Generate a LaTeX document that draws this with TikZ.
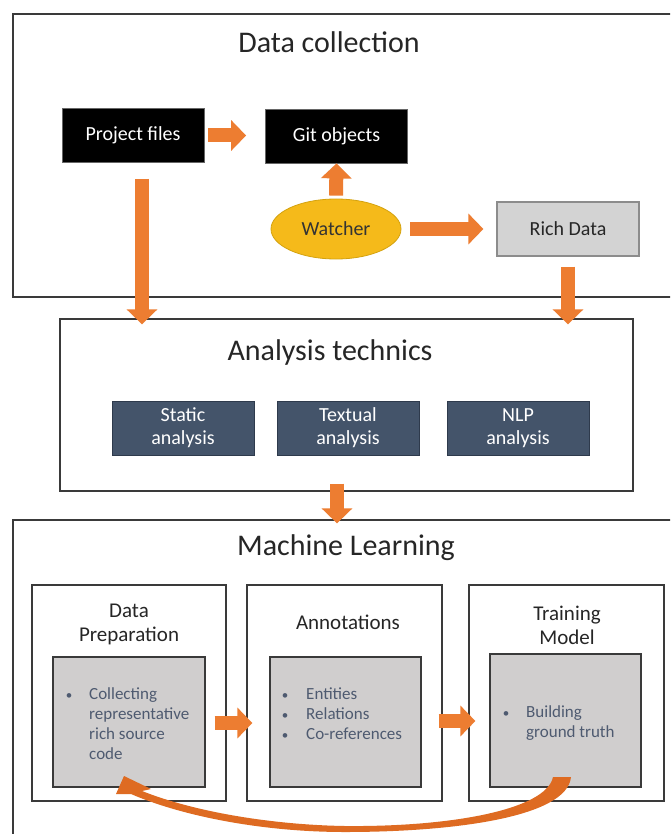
\documentclass[tikz,border=0pt]{standalone}
\usepackage{fontspec}
\setmainfont{Carlito}
\usetikzlibrary{arrows.meta,calc,shapes.geometric}
\definecolor{borange}{HTML}{ED7D31}
\definecolor{curveorange}{HTML}{DE6B22}
\definecolor{slate}{HTML}{44546A}
\definecolor{slateedge}{HTML}{2E3A4C}
\definecolor{bullettext}{HTML}{4E5A70}
\definecolor{framegray}{HTML}{3A3A3A}
\definecolor{lightgray}{HTML}{D3D3D3}
\definecolor{innergray}{HTML}{D0CECE}
\definecolor{gold}{HTML}{F5BA1A}
\definecolor{goldedge}{HTML}{D4A20E}
\definecolor{titletext}{HTML}{262626}
\begin{document}
\begin{tikzpicture}[x=1pt,y=-1pt,
  frame/.style={draw=framegray,line width=1.3pt,inner sep=0pt},
  titletxt/.style={text=titletext,font=\fontsize{30}{36}\selectfont,inner sep=0pt},
  blackbox/.style={fill=black,draw=black!60,line width=0.8pt,text=white,minimum width=142pt,minimum height=54pt,inner sep=0pt,font=\fontsize{20}{24}\selectfont},
  graybox/.style={fill=lightgray,draw=black!45,line width=1.2pt,text=titletext,minimum width=142pt,minimum height=54pt,inner sep=0pt,font=\fontsize{20}{24}\selectfont},
  watch/.style={ellipse,fill=gold,draw=goldedge,line width=0.8pt,text=black!80,minimum width=130pt,minimum height=60pt,inner sep=0pt,font=\fontsize{20}{24}\selectfont},
  slatebox/.style={fill=slate,draw=slateedge,line width=1pt,text=white,minimum width=142pt,minimum height=54pt,inner sep=0pt,align=center,font=\fontsize{20}{23}\selectfont},
  colbox/.style={draw=framegray,line width=1.2pt,inner sep=0pt,minimum height=216pt},
  innerbox/.style={fill=innergray,draw=framegray,line width=1.2pt,inner sep=0pt},
  coltitle/.style={text=titletext,font=\fontsize{21}{24}\selectfont,inner sep=0pt,anchor=base},
  btext/.style={text=bullettext,font=\fontsize{17}{20}\selectfont,inner sep=0pt,anchor=base west},
  bdot/.style={text=bullettext,font=\fontsize{13}{20}\selectfont,inner sep=0pt,anchor=base},
  barrow/.style={draw=borange,line width=14pt,-{Triangle[width=30pt,length=15pt]}}
]
\clip (0,0) rectangle (670,834);
\fill[white] (0,0) rectangle (670,834);

% ---------- Data collection ----------
\node[frame,minimum width=667pt,minimum height=283pt] (dc) at (346.5,155.5) {};
\node[titletxt,anchor=base] (dctitle) at (329,53) {Data collection};
\node[blackbox] (pf) at (133,135.5) {Project files};
\node[blackbox] (git) at (336.5,136) {Git objects};
\node[watch] (wat) at (336,229) {Watcher};
\node[graybox] (rich) at (568,229) {Rich Data};

% ---------- Analysis technics ----------
\node[frame,minimum width=573pt,minimum height=172pt] (ana) at (346.5,405) {};
\node[titletxt,anchor=base] (anatitle) at (330,360) {Analysis technics};
\node[slatebox] (sta) at (183,428) {Static\\analysis};
\node[slatebox] (txt) at (348,428) {Textual\\analysis};
\node[slatebox] (nlp) at (518,428) {NLP\\analysis};

% ---------- Machine Learning ----------
\node[frame,minimum width=667pt,minimum height=330pt] (ml) at (346.5,685) {};
\node[titletxt,anchor=base] (mltitle) at (346,555) {Machine Learning};

\node[colbox,minimum width=194pt] (dpo) at (129,693) {};
\node[colbox,minimum width=195pt] (anno) at (344.5,693) {};
\node[colbox,minimum width=195pt] (tro) at (566.5,693) {};

\node[coltitle] (dpt1) at (129,617) {Data};
\node[coltitle] (dpt2) at (129,641) {Preparation};
\node[coltitle] (annt) at (348,629) {Annotations};
\node[coltitle] (trt1) at (567,620) {Training};
\node[coltitle] (trt2) at (567,644) {Model};

\node[innerbox,minimum width=152pt,minimum height=130pt] (dpi) at (129,722) {};
\node[innerbox,minimum width=151pt,minimum height=130pt] (anni) at (345.5,722) {};
\node[innerbox,minimum width=151pt,minimum height=133pt] (tri) at (565.5,720.5) {};

\node[bdot] (dpb) at (69,699) {\textbullet};
\node[btext] (dp1) at (89,699) {Collecting};
\node[btext] (dp2) at (89,719) {representative};
\node[btext] (dp3) at (89,739) {rich source};
\node[btext] (dp4) at (89,759) {code};

\node[bdot] (anb1) at (285,699) {\textbullet};
\node[bdot] (anb2) at (285,719) {\textbullet};
\node[bdot] (anb3) at (285,739) {\textbullet};
\node[btext] (an1) at (306,699) {Entities};
\node[btext] (an2) at (306,719) {Relations};
\node[btext] (an3) at (306,739) {Co-references};

\node[bdot] (trb) at (506,717) {\textbullet};
\node[btext] (tr1) at (526,717) {Building};
\node[btext] (tr2) at (526,737) {ground truth};

% ---------- Block arrows ----------
\draw[barrow] ([xshift=4pt]pf.east) -- ([xshift=-19pt]git.west |- pf.east);
\draw[barrow] ([yshift=3pt]wat.north) -- (git.south);
\draw[barrow] ([xshift=9pt]wat.east) -- ([xshift=-13pt]rich.west);
\draw[barrow] ($(pf.south)+(9,16)$) -- ($(pf.south |- ana.north)+(9,6)$);
\draw[barrow] ($(rich.south)+(0,10)$) -- ($(rich.south |- ana.north)+(0,6)$);
\draw[barrow] ($(ana.south)+(-9.5,-8)$) -- ($(ana.south |- ml.north)+(-9.5,4)$);
\draw[barrow] ($(dpi.east)+(9,1)$) -- ($(anno.west |- dpi.east)+(6,1)$);
\draw[barrow] ($(anni.east)+(17,-1)$) -- ($(tro.west |- anni.east)+(7,-1)$);

% ---------- Curved feedback arrow ----------
\fill[curveorange] (124,776) -- (151,789) -- (142,791)
  .. controls (200,814) and (280,825) .. (345,826)
  .. controls (450,827) and (546,810) .. (553,777)
  -- (571,777)
  .. controls (567,818) and (450,832) .. (345,832)
  .. controls (262,832) and (182,816) .. (131,794)
  -- (116,794) -- cycle;
\end{tikzpicture}
\end{document}
